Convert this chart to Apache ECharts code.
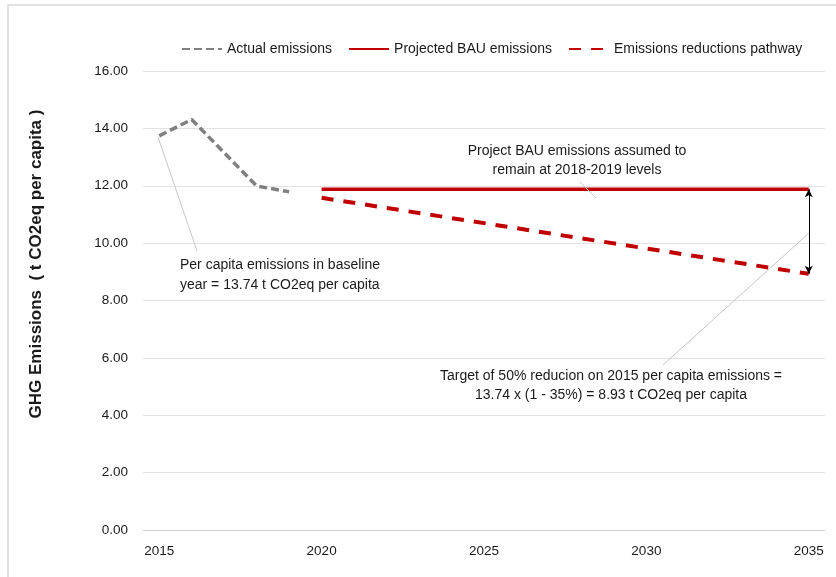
<!DOCTYPE html>
<html>
<head>
<meta charset="utf-8">
<script src="https://cdn.jsdelivr.net/npm/echarts@6/dist/echarts.min.js"></script>
<style>html,body{margin:0;padding:0;background:#fff}#c{width:836px;height:577px}</style>
</head>
<body>
<div id="c"></div>
<script>
const years = ['2015','2016','2017','2018','2019','2020','2021','2022','2023','2024','2025','2026','2027','2028','2029','2030','2031','2032','2033','2034','2035'];
const actualEmissions = [13.74, 14.31, null, 11.99, 11.79, null, null, null, null, null, null, null, null, null, null, null, null, null, null, null, null];
const projectedBAU = [null, null, null, null, null, 11.88, 11.88, 11.88, 11.88, 11.88, 11.88, 11.88, 11.88, 11.88, 11.88, 11.88, 11.88, 11.88, 11.88, 11.88, 11.88];
const reductionPathway = [null, null, null, null, null, 11.58, null, null, null, null, null, null, null, null, null, null, null, null, null, null, 8.93];
const yTicks = { min: 0, max: 16, interval: 2 };

const FONT = 'Liberation Sans';
const TXT = '#1a1a1a';
const chart = echarts.init(document.getElementById('c'), null, { renderer: 'canvas' });
chart.setOption({
  animation: false,
  backgroundColor: '#fff',
  textStyle: { fontFamily: FONT },
  grid: { left: 143, right: 11, top: 71, bottom: 47 },
  legend: {
    left: 176, top: 37, itemWidth: 40, itemHeight: 14, itemGap: 16,
    itemStyle: { opacity: 0 },
    textStyle: { fontFamily: FONT, fontSize: 14, color: TXT },
    data: ['Actual emissions', 'Projected BAU emissions', 'Emissions reductions pathway']
  },
  xAxis: {
    type: 'category', data: years, boundaryGap: true,
    axisLine: { lineStyle: { color: '#d0d0d0', width: 1 } },
    axisTick: { show: false },
    axisLabel: { interval: 4, color: TXT, fontSize: 13.5, fontFamily: FONT, margin: 14 },
    splitLine: { show: false }
  },
  yAxis: {
    type: 'value', min: yTicks.min, max: yTicks.max, interval: yTicks.interval,
    axisLine: { show: false }, axisTick: { show: false },
    axisLabel: { formatter: v => v.toFixed(2), color: TXT, fontSize: 13.5, fontFamily: FONT, margin: 15 },
    splitLine: { lineStyle: { color: '#e3e3e3', width: 1 } }
  },
  series: [
    {
      name: 'Actual emissions', type: 'line', data: actualEmissions, connectNulls: true,
      symbol: 'none', itemStyle: { color: '#808080' },
      lineStyle: { color: '#808080', width: 3.5, type: [8, 4] }
    },
    {
      name: 'Projected BAU emissions', type: 'line', data: projectedBAU,
      symbol: 'none', itemStyle: { color: '#c00000' },
      lineStyle: { color: '#c00000', width: 3.5, type: 'solid' },
      markLine: {
        silent: true, symbol: ['arrow', 'arrow'], symbolSize: [6, 8],
        label: { show: false },
        lineStyle: { color: '#000', width: 1, type: 'solid' },
        data: [[{ coord: ['2035', projectedBAU[20]] }, { coord: ['2035', reductionPathway[20]] }]]
      }
    },
    {
      name: 'Emissions reductions pathway', type: 'line', data: reductionPathway, connectNulls: true,
      symbol: 'none', itemStyle: { color: '#c00000' },
      lineStyle: { color: '#c00000', width: 4, type: [12, 10] }
    }
  ],
  graphic: [
    { type: 'rect', shape: { x: 8, y: 5, width: 840, height: 590 }, style: { fill: 'none', stroke: '#d9d9d9', lineWidth: 1.5 }, silent: true, z: 0 },
    { type: 'text', x: 36, y: 264, rotation: Math.PI / 2, style: { text: 'GHG Emissions  ( t CO2eq per capita )', font: 'bold 17px "' + FONT + '"', fill: TXT, align: 'center', verticalAlign: 'middle' } },
    { type: 'line', shape: { x1: 158, y1: 137, x2: 197, y2: 251 }, style: { stroke: '#c8c8c8', lineWidth: 1 }, z: 10 },
    { type: 'line', shape: { x1: 580, y1: 182, x2: 596, y2: 198 }, style: { stroke: '#c8c8c8', lineWidth: 1 }, z: 10 },
    { type: 'line', shape: { x1: 663, y1: 365, x2: 809, y2: 233 }, style: { stroke: '#c8c8c8', lineWidth: 1 }, z: 10 },
    { type: 'text', x: 577, y: 161, style: { text: 'Project BAU emissions assumed to\nremain at 2018-2019 levels', font: '14px "' + FONT + '"', fill: TXT, align: 'center', verticalAlign: 'middle', lineHeight: 19 }, z: 20 },
    { type: 'text', x: 180, y: 275, style: { text: 'Per capita emissions in baseline\nyear = 13.74 t CO2eq per capita', font: '14px "' + FONT + '"', fill: TXT, align: 'left', verticalAlign: 'middle', lineHeight: 20 }, z: 20 },
    { type: 'text', x: 611, y: 386, style: { text: 'Target of 50% reducion on 2015 per capita emissions =\n13.74 x (1 - 35%) = 8.93 t CO2eq per capita', font: '14px "' + FONT + '"', fill: TXT, align: 'center', verticalAlign: 'middle', lineHeight: 19 }, z: 20 }
  ]
});
</script>
</body>
</html>
